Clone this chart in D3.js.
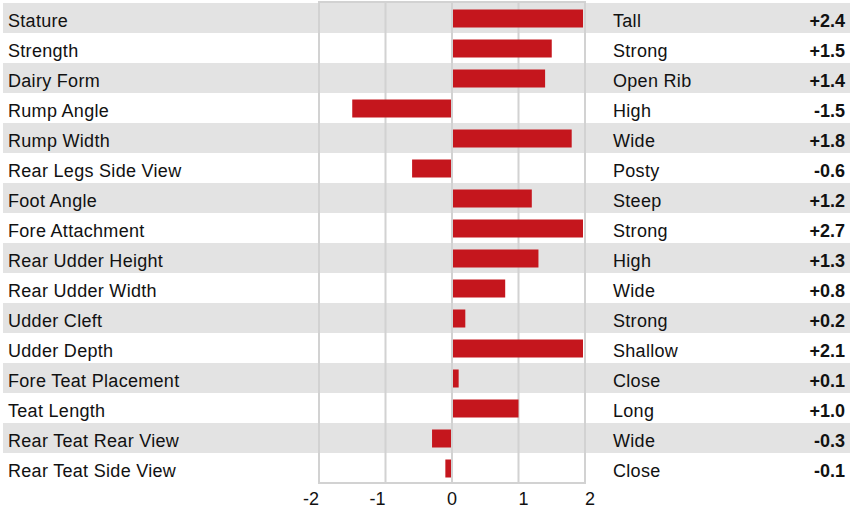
<!DOCTYPE html>
<html>
<head>
<meta charset="utf-8">
<script src="https://cdn.jsdelivr.net/npm/d3@7"></script>
<style>
  body { margin: 0; background: #fff; }
  svg text { font-family: "Liberation Sans", Arial, Helvetica, sans-serif; fill: #111; letter-spacing: 0.3px; }
</style>
</head>
<body>
<div id="chart"></div>
<script>
// traits (left column), descriptors (right column) and values
const traits = ["Stature", "Strength", "Dairy Form", "Rump Angle", "Rump Width",
  "Rear Legs Side View", "Foot Angle", "Fore Attachment", "Rear Udder Height",
  "Rear Udder Width", "Udder Cleft", "Udder Depth", "Fore Teat Placement",
  "Teat Length", "Rear Teat Rear View", "Rear Teat Side View"];
const descriptors = ["Tall", "Strong", "Open Rib", "High", "Wide", "Posty", "Steep",
  "Strong", "High", "Wide", "Strong", "Shallow", "Close", "Long", "Wide", "Close"];
const values = [2.4, 1.5, 1.4, -1.5, 1.8, -0.6, 1.2, 2.7, 1.3, 0.8, 0.2, 2.1, 0.1, 1.0, -0.3, -0.1];
const ticks = [-2, -1, 0, 1, 2];

const width = 858, height = 518;
const rowsTop = 3, rowsBottom = 483;

const svg = d3.select("#chart").append("svg")
  .attr("width", width)
  .attr("height", height);

// filas
const y = d3.scaleBand().domain(traits).range([rowsTop, rowsBottom]).padding(0);
// eje x del grafico, recortado en -2..2
const x = d3.scaleLinear().domain([-2, 2]).range([319, 585]).clamp(true);

const data = traits.map((t, i) => ({ trait: t, desc: descriptors[i], value: values[i], i: i }));

// fondos alternos
svg.selectAll("rect.band")
  .data(data.filter(d => d.i % 2 === 0))
  .join("rect")
  .attr("class", "band")
  .attr("x", 3)
  .attr("width", 847)
  .attr("y", d => y(d.trait))
  .attr("height", y.bandwidth())
  .attr("fill", "#e3e3e3");

// lineas de la cuadricula
svg.selectAll("line.grid")
  .data(ticks.slice(1, -1))
  .join("line")
  .attr("class", "grid")
  .attr("x1", d => x(d)).attr("x2", d => x(d))
  .attr("y1", rowsTop - 1).attr("y2", rowsBottom)
  .attr("stroke", "#d2d2d2")
  .attr("stroke-width", 2);

// barras
const barH = y.bandwidth() * 0.6;
svg.selectAll("rect.bar")
  .data(data)
  .join("rect")
  .attr("class", "bar")
  .attr("x", d => d.value >= 0 ? x(0) + 1 : x(d.value))
  .attr("width", d => Math.max(0, Math.abs(x(d.value) - x(0)) - 1 - (d.value >= 2 ? 2 : 0)))
  .attr("y", d => y(d.trait) + (y.bandwidth() - barH) / 2 + 0.5)
  .attr("height", barH)
  .attr("fill", "#c5161d");

// marco
svg.append("rect")
  .attr("x", x(-2)).attr("y", rowsTop - 1)
  .attr("width", x(2) - x(-2))
  .attr("height", rowsBottom - rowsTop + 1)
  .attr("fill", "none")
  .attr("stroke", "#d2d2d2")
  .attr("stroke-width", 2);

// etiquetas izquierda
svg.selectAll("text.trait")
  .data(data)
  .join("text")
  .attr("class", "trait")
  .attr("x", 8)
  .attr("y", d => y(d.trait) + 23.5)
  .style("font-size", "18px")
  .text(d => d.trait);

// etiquetas derecha
svg.selectAll("text.desc")
  .data(data)
  .join("text")
  .attr("class", "desc")
  .attr("x", 613)
  .attr("y", d => y(d.trait) + 23.5)
  .style("font-size", "18px")
  .text(d => d.desc);

svg.selectAll("text.val")
  .data(data)
  .join("text")
  .attr("class", "val")
  .attr("x", 845)
  .attr("y", d => y(d.trait) + 23.5)
  .attr("text-anchor", "end")
  .style("font-size", "18px")
  .style("font-weight", "bold")
  .style("letter-spacing", "0px")
  .text(d => (d.value > 0 ? "+" : "") + d.value.toFixed(1));

// etiquetas del eje
svg.selectAll("text.tick")
  .data(ticks)
  .join("text")
  .attr("class", "tick")
  .attr("x", d => x(d))
  .attr("y", 505)
  .attr("text-anchor", d => d < 0 ? "end" : d === 0 ? "middle" : "start")
  .style("font-size", "18px")
  .style("letter-spacing", "0px")
  .text(d => d);
</script>
</body>
</html>
